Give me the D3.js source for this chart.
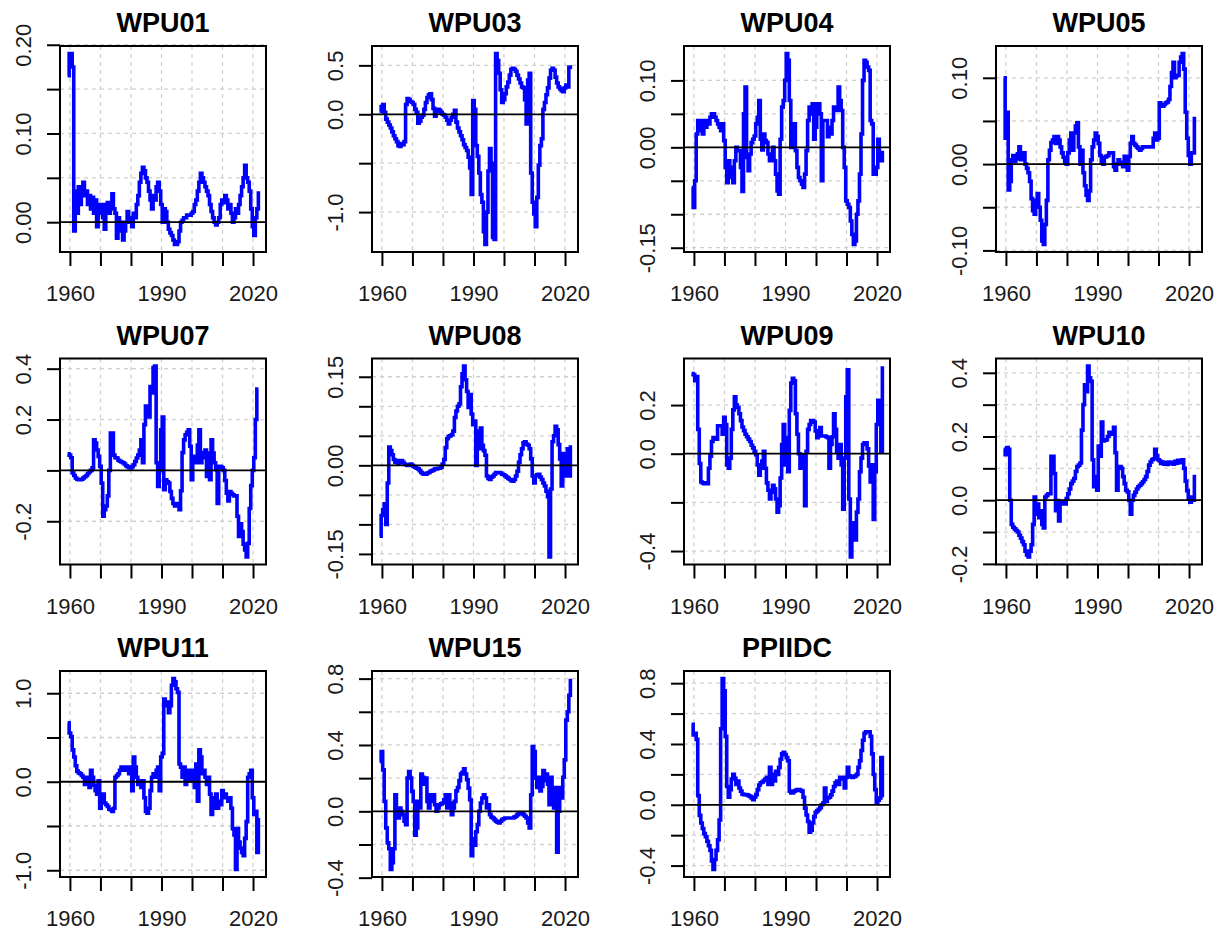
<!DOCTYPE html>
<html>
<head>
<meta charset="utf-8">
<script src="https://cdn.jsdelivr.net/npm/d3@7"></script>
<style>
  body { margin: 0; background: #ffffff; }
  svg { display: block; }
</style>
</head>
<body>
<svg id="chart" width="1218" height="931"></svg>
<script>
// Half-yearly observations, first one at 1959.25
const firstObs = 1959.25;
const obsStep = 0.5;

const seriesNames = ["WPU01", "WPU03", "WPU04", "WPU05", "WPU07", "WPU08",
                     "WPU09", "WPU10", "WPU11", "WPU15", "PPIIDC"];

// x axis ticks (decades); only some carry a label
const xTickYears  = [1960, 1970, 1980, 1990, 2000, 2010, 2020];
const xTickLabels = ["1960", "", "", "1990", "", "", "2020"];

// Series values, one row = five years (10 half-year points)
const wpu01 = [
  0.165, 0.19, 0.19, 0.175, -0.01, 0.035, 0.01, 0.04, 0.02, 0.035,
  0.045, 0.03, 0.035, 0.02, 0.03, 0.015, 0.028, 0.01, 0.025, -0.005,
  0.01, 0.02, 0.02, 0.005, -0.008, 0.02, 0.022, 0.01, 0.02, 0.032,
  0.015, 0.01, -0.018, 0.005, -0.01, 0.0, -0.02, -0.01, 0.0, 0.012,
  0.005, 0.0, -0.005, 0.01, 0.005, 0.02, 0.03, 0.045, 0.055, 0.062,
  0.058, 0.05, 0.045, 0.035, 0.025, 0.015, 0.03, 0.025, 0.04, 0.045,
  0.035, 0.02, 0.0, 0.015, 0.012, 0.0, -0.008, -0.012, -0.015, -0.02,
  -0.025, -0.025, -0.022, -0.01, 0.0, 0.002, 0.005, 0.005, 0.008, 0.008,
  0.008, 0.01, 0.012, 0.02, 0.025, 0.035, 0.045, 0.055, 0.05, 0.045,
  0.04, 0.035, 0.03, 0.02, 0.012, 0.005, 0.0, -0.003, 0.0, 0.005,
  0.02, 0.025, 0.022, 0.03, 0.025, 0.015, 0.02, 0.01, 0.0, 0.005,
  0.015, 0.01, 0.02, 0.03, 0.04, 0.05, 0.064, 0.05, 0.045, 0.035,
  0.015, -0.005, -0.015, 0.005, 0.015, 0.035
];
const wpu03 = [
  0.03, 0.08, 0.1, 0.02, -0.05, -0.08, -0.11, -0.14, -0.18, -0.22,
  -0.25, -0.28, -0.32, -0.33, -0.3, -0.31, -0.28, 0.1, 0.16, 0.15,
  0.13, 0.12, 0.1, 0.05, 0.02, -0.09, -0.07, -0.03, -0.01, 0.05,
  0.12, 0.17, 0.2, 0.21, 0.15, 0.06, -0.02, 0.03, 0.05, 0.04,
  0.02, 0.0, -0.01, -0.03, -0.06, -0.1, -0.06, -0.03, 0.0, 0.04,
  -0.08, -0.14, -0.18, -0.22, -0.26, -0.31, -0.34, -0.37, -0.44, -0.55,
  -0.82, 0.14, 0.05, -0.32, -0.43, -0.6, -0.82, -0.9, -1.2, -1.33,
  -1.0, -0.58, -0.35, -0.5, -1.26, -1.28, 0.62, 0.55, 0.42, 0.25,
  0.12, 0.15, 0.21, 0.28, 0.33, 0.4, 0.46, 0.47, 0.46, 0.44,
  0.4, 0.36, 0.32, 0.28, 0.27, 0.15, -0.1, 0.35, 0.42, -0.6,
  -0.9, -1.02, -1.15, -0.85, -0.52, -0.32, -0.25, 0.05, 0.12, 0.2,
  0.27, 0.37, 0.45, 0.47, 0.45, 0.38, 0.32, 0.28, 0.26, 0.24,
  0.23, 0.27, 0.3, 0.28, 0.48, 0.5
];
const wpu04 = [
  -0.06, -0.09, -0.05, 0.02, 0.04, 0.025, 0.04, 0.02, 0.04, 0.03,
  0.04, 0.035, 0.045, 0.05, 0.05, 0.045, 0.04, 0.035, 0.03, 0.025,
  0.035, 0.01, -0.03, -0.053, -0.02, -0.03, -0.045, -0.053, -0.02, 0.0,
  -0.005, -0.005, -0.03, -0.066, 0.05, 0.09, -0.015, -0.035, -0.01, 0.007,
  0.012, 0.017, 0.035, 0.045, 0.07, 0.012, -0.004, 0.02, 0.01, 0.007,
  -0.01, -0.02, -0.01, 0.0, -0.02, -0.04, -0.065, -0.07, 0.012, 0.06,
  0.07, 0.1, 0.14, 0.13, 0.07, 0.0, 0.03, 0.035, -0.005, -0.03,
  -0.045, -0.05, -0.055, -0.06, -0.04, -0.005, 0.04, 0.06, 0.05, 0.065,
  0.012, 0.03, 0.065, 0.065, 0.05, -0.05, 0.04, 0.04, 0.04, 0.016,
  0.03, 0.02, 0.04, 0.06, 0.055, 0.055, 0.09, 0.07, 0.055, 0.0,
  -0.03, -0.08, -0.085, -0.09, -0.11, -0.13, -0.145, -0.14, -0.1, -0.08,
  -0.04, 0.02, 0.1, 0.13, 0.127, 0.12, 0.115, 0.04, 0.035, -0.04,
  -0.04, -0.03, 0.012, -0.01, -0.02, -0.005
];
const wpu05 = [
  0.1, 0.03, 0.06, -0.03, -0.02, 0.005, 0.01, 0.003, 0.006, 0.012,
  0.02, 0.005, 0.01, 0.013, 0.0, -0.005, -0.01, -0.02, -0.04, -0.054,
  -0.058, -0.042, -0.034, -0.05, -0.065, -0.089, -0.093, -0.07, -0.042, 0.005,
  0.016, 0.025, 0.028, 0.032, 0.024, 0.032, 0.028, 0.02, 0.013, 0.008,
  0.003, 0.0, 0.013, 0.028, 0.036, 0.016, 0.036, 0.044, 0.048, 0.02,
  0.0, 0.016, -0.01, -0.025, -0.036, -0.042, -0.031, 0.005, 0.02, 0.028,
  0.036, 0.032, 0.024, 0.01, 0.002, 0.0, 0.008, 0.009, 0.01, 0.013,
  0.013, 0.013, -0.003, -0.007, 0.0, 0.005, 0.002, 0.0, -0.003, 0.009,
  0.009, -0.007, 0.009, 0.024, 0.032, 0.024, 0.022, 0.02, 0.018, 0.016,
  0.018, 0.02, 0.02, 0.02, 0.02, 0.02, 0.02, 0.02, 0.03, 0.036,
  0.028, 0.03, 0.071, 0.067, 0.067, 0.069, 0.071, 0.072, 0.075, 0.09,
  0.106, 0.118, 0.1, 0.102, 0.103, 0.118, 0.124, 0.128, 0.11, 0.06,
  0.03, 0.01, 0.0, 0.013, 0.013, 0.055
];
const wpu07 = [
  0.065, 0.06, 0.05, -0.01, -0.02, -0.03, -0.035, -0.037, -0.037, -0.035,
  -0.03, -0.025, -0.02, -0.012, -0.005, 0.0, 0.01, 0.12, 0.108, 0.08,
  0.055, 0.016, -0.05, -0.18, -0.155, -0.14, -0.1, 0.0, 0.147, 0.147,
  0.06, 0.05, 0.049, 0.04, 0.036, 0.033, 0.03, 0.025, 0.018, 0.015,
  0.012, 0.01, 0.015, 0.022, 0.035, 0.049, 0.06, 0.08, 0.12, 0.03,
  0.18, 0.253, 0.25, 0.21, 0.33, 0.305, 0.404, 0.41, 0.03, -0.063,
  0.0, 0.16, 0.21, -0.076, -0.037, -0.045, -0.05, -0.083, -0.11, -0.13,
  -0.14, -0.13, -0.13, -0.155, -0.08, 0.07, 0.12, 0.14, 0.15, 0.16,
  0.095, -0.037, 0.055, 0.04, 0.03, 0.1, 0.16, 0.03, 0.05, 0.07,
  0.08, -0.024, 0.068, -0.037, 0.12, 0.068, 0.03, 0.003, -0.13, 0.016,
  0.015, 0.01, 0.0, -0.04, -0.09, -0.12, -0.083, -0.09, -0.096, -0.1,
  -0.1, -0.18, -0.26, -0.21, -0.24, -0.29, -0.313, -0.34, -0.287, -0.15,
  -0.06, 0.0, 0.05, 0.2, 0.32, 0.32
];
const wpu08 = [
  -0.12, -0.085, -0.075, -0.065, -0.1, -0.03, 0.031, 0.025, 0.018, 0.01,
  0.005, 0.008, 0.002, 0.006, 0.008, 0.005, 0.002, 0.001, 0.0, 0.0,
  0.002, 0.0, -0.002, -0.003, -0.005, -0.006, -0.009, -0.012, -0.014, -0.015,
  -0.015, -0.013, -0.012, -0.01, -0.009, -0.008, -0.006, -0.006, -0.005, -0.005,
  -0.003, 0.002, 0.01, 0.03, 0.045, 0.049, 0.05, 0.052, 0.058, 0.081,
  0.092, 0.1, 0.104, 0.133, 0.155, 0.168, 0.145, 0.125, 0.098, 0.12,
  0.087, 0.069, 0.075, 0.0, 0.058, 0.028, 0.063, 0.034, 0.025, 0.017,
  -0.018, -0.022, -0.024, -0.02, -0.018, -0.015, -0.012, -0.012, -0.012, -0.013,
  -0.015, -0.016, -0.018, -0.02, -0.022, -0.024, -0.026, -0.027, -0.024, -0.018,
  -0.01, 0.005, 0.018, 0.028, 0.038, 0.04, 0.036, 0.034, 0.028, 0.011,
  -0.018, -0.03, -0.018, -0.016, -0.015, -0.02, -0.024, -0.03, -0.035, -0.044,
  -0.053, -0.155, -0.04, 0.04, 0.05, 0.066, 0.06, 0.035, 0.011, -0.035,
  0.02, -0.018, 0.017, 0.028, -0.018, 0.034
];
const wpu09 = [
  0.33, 0.325, 0.3, 0.317, 0.1, -0.04, -0.116, -0.12, -0.123, -0.12,
  -0.123, -0.06, -0.01, 0.05, 0.066, 0.06, 0.06, 0.115, 0.115, 0.115,
  0.08, 0.15, 0.12, -0.046, -0.06, -0.018, 0.1, 0.18, 0.234, 0.2,
  0.19, 0.164, 0.136, 0.11, 0.095, 0.08, 0.07, 0.06, 0.05, 0.035,
  0.024, 0.01, -0.004, -0.046, -0.088, -0.06, -0.03, 0.01, -0.06, -0.12,
  -0.15, -0.186, -0.158, -0.13, -0.144, -0.186, -0.24, -0.214, -0.1, 0.038,
  0.12, -0.046, 0.066, -0.074, 0.178, 0.29, 0.31, 0.3, 0.164, 0.08,
  0.0, -0.06, -0.004, -0.06, -0.214, 0.01, 0.1, 0.12, 0.136, 0.136,
  0.13, 0.094, 0.066, 0.09, 0.108, 0.073, 0.073, 0.073, 0.07, 0.066,
  -0.06, 0.038, 0.07, 0.164, 0.1, 0.01, -0.018, 0.038, -0.046, -0.228,
  -0.018, 0.234, 0.345, -0.186, -0.424, -0.284, -0.3, -0.354, -0.24, -0.186,
  -0.074, -0.018, 0.038, 0.045, 0.045, 0.02, -0.05, -0.116, -0.046, -0.27,
  -0.074, 0.12, 0.22, 0.19, 0.01, 0.36
];
const wpu10 = [
  0.16, 0.143, 0.165, 0.16, 0.0, -0.076, -0.085, -0.09, -0.095, -0.1,
  -0.11, -0.119, -0.13, -0.14, -0.16, -0.172, -0.178, -0.16, -0.14, -0.076,
  0.01, -0.044, -0.012, -0.055, -0.033, -0.076, -0.087, 0.01, 0.015, 0.02,
  0.02, 0.138, 0.138, 0.084, -0.033, -0.001, -0.065, -0.012, -0.006, -0.01,
  -0.012, 0.005, 0.02, 0.035, 0.052, 0.06, 0.068, 0.09, 0.106, 0.11,
  0.117, 0.22, 0.3, 0.362, 0.341, 0.421, 0.384, 0.373, 0.127, 0.042,
  0.074, 0.031, 0.17, 0.138, 0.245, 0.186, 0.188, 0.19, 0.2, 0.213,
  0.21, 0.207, 0.229, 0.149, 0.031, 0.106, 0.106, 0.1, 0.074, 0.052,
  0.031, 0.026, -0.001, -0.044, 0.0, 0.015, 0.025, 0.035, 0.042, 0.047,
  0.052, 0.058, 0.065, 0.074, 0.09, 0.11, 0.12, 0.127, 0.13, 0.16,
  0.14, 0.127, 0.123, 0.115, 0.12, 0.113, 0.118, 0.112, 0.12, 0.115,
  0.118, 0.113, 0.122, 0.116, 0.125, 0.118, 0.125, 0.127, 0.1, 0.06,
  0.03, 0.005, -0.006, 0.01, 0.0, 0.08
];
const wpu11 = [
  0.665, 0.55, 0.51, 0.36, 0.28, 0.18, 0.12, 0.1, 0.09, 0.07,
  0.05, -0.03, 0.03, 0.05, -0.065, 0.13, 0.05, -0.04, -0.1, -0.14,
  0.01, -0.3, -0.22, -0.14, -0.24, -0.26, -0.28, -0.31, -0.32, -0.335,
  -0.3, 0.05, 0.07, 0.09, 0.13, 0.165, 0.13, 0.15, 0.165, 0.13,
  0.09, 0.165, -0.1, 0.28, 0.165, 0.05, -0.03, 0.01, -0.065, 0.01,
  -0.18, -0.335, -0.355, -0.3, -0.1, 0.05, 0.09, 0.05, 0.13, 0.165,
  -0.1, 0.28, 0.32, 0.935, 0.86, 0.9, 0.78, 0.86, 1.09, 1.165,
  1.13, 1.05, 1.01, 0.2, 0.165, 0.05, 0.165, -0.03, 0.13, 0.09,
  0.01, 0.13, 0.1, -0.065, 0.2, -0.22, 0.36, 0.28, 0.09, 0.13,
  0.05, -0.03, 0.05, -0.14, -0.37, -0.18, -0.3, -0.14, -0.3, -0.22,
  -0.26, -0.1, -0.18, -0.14, -0.18, -0.22, -0.18, -0.3, -0.53, -0.6,
  -0.99, -0.53, -0.68, -0.75, -0.8, -0.835, -0.64, -0.45, 0.05, 0.09,
  0.13, -0.18, -0.37, -0.335, -0.8, -0.41
];
const wpu15 = [
  0.3, 0.36, 0.25, 0.06, -0.1, -0.19, -0.226, -0.35, -0.31, -0.226,
  0.1, 0.02, -0.04, 0.02, 0.0, -0.02, -0.06, -0.08, 0.2, 0.24,
  0.2, 0.12, 0.06, -0.144, -0.1, 0.06, 0.02, 0.225, 0.205, 0.164,
  0.2, 0.06, 0.02, 0.1, 0.06, 0.1, 0.04, 0.0, 0.02, 0.04,
  0.045, 0.05, 0.07, 0.1, 0.02, 0.1, 0.05, -0.02, 0.02, 0.06,
  0.123, 0.144, 0.185, 0.225, 0.236, 0.257, 0.225, 0.19, 0.14, 0.07,
  -0.267, -0.164, -0.205, -0.123, -0.08, 0.0, 0.05, 0.08, 0.1, 0.08,
  0.02, 0.04, -0.02, -0.035, -0.04, -0.05, -0.06, -0.065, -0.07, -0.06,
  -0.05, -0.045, -0.04, -0.04, -0.04, -0.04, -0.04, -0.04, -0.035, -0.03,
  -0.02, -0.01, -0.01, -0.015, -0.02, -0.03, -0.04, -0.07, -0.1, 0.1,
  0.39, 0.36, 0.2, 0.144, 0.205, 0.123, 0.15, 0.246, 0.185, 0.225,
  0.164, 0.04, 0.205, 0.144, 0.02, 0.144, -0.246, 0.0, 0.144, 0.08,
  0.205, 0.31, 0.55, 0.6, 0.7, 0.8
];
const ppiidc = [
  0.53, 0.46, 0.47, 0.43, 0.06, -0.07, -0.12, -0.156, -0.19, -0.21,
  -0.24, -0.27, -0.3, -0.37, -0.425, -0.36, -0.3, -0.23, -0.1, 0.5,
  0.83, 0.75, 0.45, 0.12, 0.05, 0.1, 0.17, 0.2, 0.175, 0.134,
  0.156, 0.11, 0.09, 0.07, 0.067, 0.067, 0.065, 0.06, 0.055, 0.045,
  0.034, 0.05, 0.067, 0.1, 0.13, 0.145, 0.15, 0.16, 0.17, 0.18,
  0.134, 0.246, 0.134, 0.2, 0.156, 0.22, 0.2, 0.246, 0.3, 0.335,
  0.346, 0.33, 0.31, 0.29, 0.09, 0.078, 0.08, 0.09, 0.095, 0.1,
  0.1, 0.095, 0.09, 0.05, -0.022, -0.067, -0.11, -0.18, -0.168, -0.12,
  -0.078, -0.05, -0.04, -0.03, -0.02, 0.0, 0.011, 0.11, 0.022, 0.045,
  0.05, 0.065, 0.09, 0.12, 0.145, 0.156, 0.134, 0.18, 0.17, 0.18,
  0.11, 0.18, 0.246, 0.19, 0.185, 0.18, 0.185, 0.19, 0.2, 0.246,
  0.29, 0.357, 0.425, 0.47, 0.48, 0.48, 0.48, 0.45, 0.335, 0.2,
  0.1, 0.011, 0.03, 0.045, 0.31, 0.05
];

// y axis ticks per panel; labels that would collide are left blank
const yTicks01 = [0, 0.05, 0.10, 0.15, 0.20];
const yLabels01 = ["0.00", "", "0.10", "", "0.20"];
const yTicks03 = [-1.0, -0.5, 0.0, 0.5];
const yLabels03 = ["-1.0", "", "0.0", "0.5"];
const yTicks04 = [-0.15, -0.10, -0.05, 0, 0.05, 0.10];
const yLabels04 = ["-0.15", "", "", "0.00", "", "0.10"];
const yTicks05 = [-0.10, -0.05, 0, 0.05, 0.10];
const yLabels05 = ["-0.10", "", "0.00", "", "0.10"];
const yTicks07 = [-0.2, 0.0, 0.2, 0.4];
const yLabels07 = ["-0.2", "", "0.2", "0.4"];
const yTicks08 = [-0.15, -0.10, -0.05, 0, 0.05, 0.10, 0.15];
const yLabels08 = ["-0.15", "", "", "0.00", "", "", "0.15"];
const yTicks09 = [-0.4, -0.2, 0.0, 0.2];
const yLabels09 = ["-0.4", "", "0.0", "0.2"];
const yTicks10 = [-0.2, -0.1, 0.0, 0.1, 0.2, 0.3, 0.4];
const yLabels10 = ["-0.2", "", "0.0", "", "0.2", "", "0.4"];
const yTicks11 = [-1.0, -0.5, 0.0, 0.5, 1.0];
const yLabels11 = ["-1.0", "", "0.0", "", "1.0"];
const yTicks15 = [-0.4, -0.2, 0.0, 0.2, 0.4, 0.6, 0.8];
const yLabels15 = ["-0.4", "", "0.0", "", "0.4", "", "0.8"];
const yTicksIDC = [-0.4, -0.2, 0.0, 0.2, 0.4, 0.6, 0.8];
const yLabelsIDC = ["-0.4", "", "0.0", "", "0.4", "", "0.8"];

const panels = [
  { values: wpu01, ticks: yTicks01, labels: yLabels01 },
  { values: wpu03, ticks: yTicks03, labels: yLabels03 },
  { values: wpu04, ticks: yTicks04, labels: yLabels04 },
  { values: wpu05, ticks: yTicks05, labels: yLabels05 },
  { values: wpu07, ticks: yTicks07, labels: yLabels07 },
  { values: wpu08, ticks: yTicks08, labels: yLabels08 },
  { values: wpu09, ticks: yTicks09, labels: yLabels09 },
  { values: wpu10, ticks: yTicks10, labels: yLabels10 },
  { values: wpu11, ticks: yTicks11, labels: yLabels11 },
  { values: wpu15, ticks: yTicks15, labels: yLabels15 },
  { values: ppiidc, ticks: yTicksIDC, labels: yLabelsIDC }
].map((p, i) => ({ ...p, name: seriesNames[i] }));

// ---- layout ----
const FONT = "'Liberation Sans', Arial, Helvetica, sans-serif";
const boxW = 206, boxH = 206;
const colStep = 312, rowStep = 312.5;
const firstLeft = 60, firstTop = 46;
const tickLen = 13;

// extend a range by 4% on both sides
const pad4 = ([a, b]) => { const d = (b - a) * 0.04; return [a - d, b + d]; };

const svg = d3.select("#chart");
svg.append("rect").attr("width", 1218).attr("height", 931).attr("fill", "#ffffff");

panels.forEach((p, i) => {
  const col = i % 4, row = Math.floor(i / 4);
  const g = svg.append("g")
    .attr("transform", `translate(${firstLeft + col * colStep},${firstTop + row * rowStep})`);

  const data = p.values.map((v, k) => ({ t: firstObs + k * obsStep, v }));
  const x = d3.scaleLinear().domain(pad4(d3.extent(data, d => d.t))).range([0, boxW]);
  const y = d3.scaleLinear().domain(pad4(d3.extent(data, d => d.v))).range([boxH, 0]);

  // dotted reference grid
  const grid = g.append("g")
    .attr("stroke", "#d0d0d0").attr("stroke-width", 1.3)
    .attr("stroke-dasharray", "4,4").attr("fill", "none");
  grid.selectAll("line.v").data(xTickYears).join("line")
    .attr("class", "v")
    .attr("x1", d => x(d)).attr("x2", d => x(d))
    .attr("y1", 0).attr("y2", boxH);
  grid.selectAll("line.h").data(p.ticks).join("line")
    .attr("class", "h")
    .attr("x1", 0).attr("x2", boxW)
    .attr("y1", d => y(d)).attr("y2", d => y(d));

  // series line (monthly-style stepping)
  g.append("path")
    .datum(data)
    .attr("fill", "none")
    .attr("stroke", "#0000ff")
    .attr("stroke-width", 3.6)
    .attr("stroke-linejoin", "miter")
    .attr("stroke-linecap", "butt")
    .attr("d", d3.line().curve(d3.curveStepAfter).x(d => x(d.t)).y(d => y(d.v)));

  // zero line
  g.append("line")
    .attr("x1", 0).attr("x2", boxW)
    .attr("y1", y(0)).attr("y2", y(0))
    .attr("stroke", "#000").attr("stroke-width", 1.8);

  // x axis
  const xAxis = d3.axisBottom(x)
    .tickValues(xTickYears)
    .tickSize(tickLen + 1)
    .tickFormat((d, k) => xTickLabels[k]);
  const gx = g.append("g").attr("transform", `translate(0,${boxH})`).call(xAxis);
  gx.select(".domain").remove();
  gx.selectAll(".tick line").attr("stroke", "#000").attr("stroke-width", 2);
  gx.selectAll(".tick text")
    .attr("y", 49).attr("dy", 0)
    .attr("fill", "#1a1a1a")
    .style("font-family", FONT).style("font-size", "22px");

  // y axis with rotated labels
  const yAxis = d3.axisLeft(y)
    .tickValues(p.ticks)
    .tickSize(tickLen)
    .tickFormat((d, k) => p.labels[k]);
  const gy = g.append("g").call(yAxis);
  gy.select(".domain").remove();
  gy.selectAll(".tick line").attr("stroke", "#000").attr("stroke-width", 2);
  gy.selectAll(".tick text")
    .attr("x", 0).attr("y", 0).attr("dy", 0)
    .attr("transform", "translate(-29,0) rotate(-90)")
    .attr("text-anchor", "middle")
    .attr("fill", "#1a1a1a")
    .style("font-family", FONT).style("font-size", "22px");

  // plot box
  g.append("rect")
    .attr("width", boxW).attr("height", boxH)
    .attr("fill", "none").attr("stroke", "#000").attr("stroke-width", 2);

  // panel title
  g.append("text")
    .attr("x", boxW / 2).attr("y", -14)
    .attr("text-anchor", "middle")
    .style("font-family", FONT).style("font-size", "27px").style("font-weight", "bold")
    .attr("fill", "#000")
    .text(p.name);
});
</script>
</body>
</html>
